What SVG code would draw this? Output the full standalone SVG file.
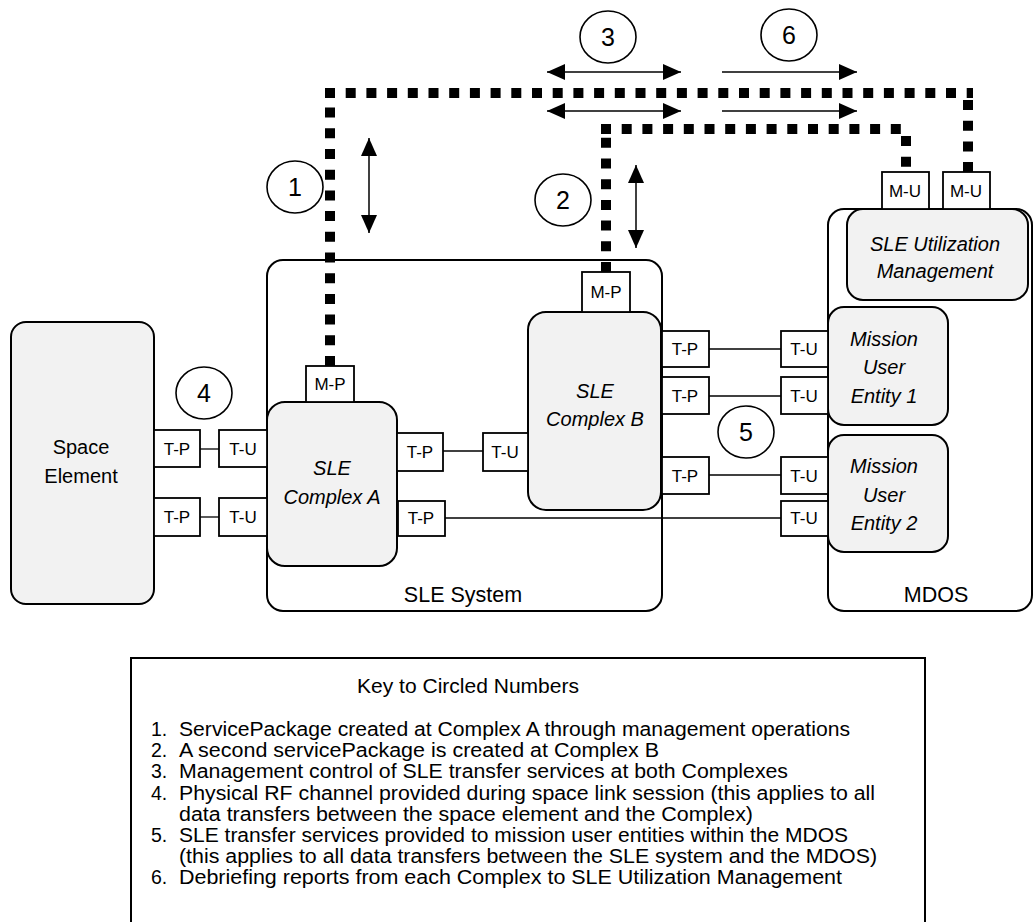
<svg xmlns="http://www.w3.org/2000/svg" width="1034" height="922" viewBox="0 0 1034 922">
<style>
  text { font-family: "Liberation Sans", Arial, sans-serif; fill: #000; }
  .big { fill: #fff; stroke: #000; stroke-width: 2; }
  .gray { fill: #f2f2f2; stroke: #000; stroke-width: 2; }
  .port { fill: #fff; stroke: #000; stroke-width: 1.8; }
  .pl { font-size: 17px; text-anchor: middle; }
  .lbl { font-size: 20px; text-anchor: middle; }
  .it { font-style: italic; }
  .sys { font-size: 21.5px; text-anchor: middle; }
  .num { fill: #fff; stroke: #000; stroke-width: 1.6; }
  .numt { font-size: 25px; text-anchor: middle; }
  .key { font-size: 19.5px; }
  .wire { stroke: #000; stroke-width: 1.3; fill: none; }
  .dot { stroke: #000; stroke-width: 10; fill: none; stroke-dasharray: 10 10.7; stroke-linecap: butt; }
  .arr { stroke: #000; stroke-width: 1.5; fill: none; }
</style>
<defs>
  <marker id="ah" viewBox="0 0 18 16" refX="18" refY="8" markerWidth="18" markerHeight="16" markerUnits="userSpaceOnUse" orient="auto-start-reverse">
    <path d="M0,0 L18,8 L0,16 z" fill="#000"/>
  </marker>
</defs>

<!-- containers -->
<g id="sle-system">
  <rect class="big" x="267" y="260" width="395" height="351" rx="16"/>
  <text class="sys" x="463" y="602">SLE System</text>
</g>
<g id="mdos">
  <rect class="big" x="828" y="209" width="204" height="402" rx="16"/>
  <text class="sys" x="936" y="602">MDOS</text>
</g>

<g id="space-element">
  <rect class="gray" x="11" y="322" width="143" height="282" rx="15"/>
  <text class="lbl" x="81" y="454">Space</text>
  <text class="lbl" x="81" y="483">Element</text>
</g>

<g id="complex-a">
  <rect class="gray" x="267" y="402" width="130" height="164" rx="18"/>
  <text class="lbl it" x="332" y="475">SLE</text>
  <text class="lbl it" x="332" y="504">Complex A</text>
</g>

<g id="complex-b">
  <rect class="gray" x="528" y="312" width="133" height="198" rx="18"/>
  <text class="lbl it" x="595" y="398">SLE</text>
  <text class="lbl it" x="595" y="426">Complex B</text>
</g>

<g id="sle-utilization-management">
  <rect class="gray" x="847" y="209" width="181" height="91" rx="16"/>
  <text class="lbl it" x="935" y="251">SLE Utilization</text>
  <text class="lbl it" x="935" y="278">Management</text>
</g>

<g id="mission-user-entity-1">
  <rect class="gray" x="828" y="307" width="120" height="118" rx="16"/>
  <text class="lbl it" x="884" y="346">Mission</text>
  <text class="lbl it" x="884" y="374">User</text>
  <text class="lbl it" x="884" y="403">Entity 1</text>
</g>

<g id="mission-user-entity-2">
  <rect class="gray" x="828" y="435" width="120" height="117" rx="16"/>
  <text class="lbl it" x="884" y="473">Mission</text>
  <text class="lbl it" x="884" y="502">User</text>
  <text class="lbl it" x="884" y="530">Entity 2</text>
</g>

<!-- connectors -->
<g id="connectors">
  <line class="wire" x1="200" y1="449" x2="219" y2="449"/>
  <line class="wire" x1="200" y1="517" x2="219" y2="517"/>
  <line class="wire" x1="443" y1="451" x2="483" y2="451"/>
  <line class="wire" x1="445" y1="518" x2="781" y2="518"/>
  <line class="wire" x1="709" y1="349" x2="781" y2="349"/>
  <line class="wire" x1="709" y1="396" x2="781" y2="396"/>
  <line class="wire" x1="709" y1="475" x2="781" y2="475"/>

  <path class="dot" d="M330 366 V98"/>
  <path class="dot" d="M325 93 H973"/>
  <path class="dot" d="M968 100 V172"/>
  <path class="dot" d="M606 272 V134"/>
  <path class="dot" d="M601 129 H911"/>
  <path class="dot" d="M906 136 V172"/>

  <line class="arr" x1="369" y1="138" x2="369" y2="233" marker-start="url(#ah)" marker-end="url(#ah)"/>
  <line class="arr" x1="636" y1="165" x2="636" y2="248" marker-start="url(#ah)" marker-end="url(#ah)"/>
  <line class="arr" x1="547" y1="72" x2="681" y2="72" marker-start="url(#ah)" marker-end="url(#ah)"/>
  <line class="arr" x1="547" y1="111" x2="681" y2="111" marker-start="url(#ah)" marker-end="url(#ah)"/>
  <line class="arr" x1="722" y1="72" x2="857" y2="72" marker-end="url(#ah)"/>
  <line class="arr" x1="722" y1="111" x2="857" y2="111" marker-end="url(#ah)"/>
</g>

<!-- ports -->
<g id="se-tp1"><rect class="port" x="154" y="430" width="46" height="37"/><text class="pl" x="177" y="455">T-P</text></g>
<g id="se-tp2"><rect class="port" x="154" y="498" width="46" height="38"/><text class="pl" x="177" y="523">T-P</text></g>
<g id="a-tu1"><rect class="port" x="219" y="430" width="48" height="37"/><text class="pl" x="243" y="455">T-U</text></g>
<g id="a-tu2"><rect class="port" x="219" y="498" width="48" height="38"/><text class="pl" x="243" y="523">T-U</text></g>
<g id="a-mp"><rect class="port" x="306" y="366" width="48" height="36"/><text class="pl" x="330" y="390">M-P</text></g>
<g id="a-tp1"><rect class="port" x="397" y="433" width="46" height="38"/><text class="pl" x="420" y="458">T-P</text></g>
<g id="a-tp2"><rect class="port" x="398" y="501" width="47" height="35"/><text class="pl" x="421" y="524">T-P</text></g>
<g id="b-tu"><rect class="port" x="483" y="433" width="45" height="38"/><text class="pl" x="505" y="458">T-U</text></g>
<g id="b-mp"><rect class="port" x="582" y="272" width="48" height="40"/><text class="pl" x="606" y="298">M-P</text></g>
<g id="b-tp1"><rect class="port" x="662" y="331" width="47" height="36"/><text class="pl" x="685" y="355">T-P</text></g>
<g id="b-tp2"><rect class="port" x="662" y="377" width="47" height="37"/><text class="pl" x="685" y="402">T-P</text></g>
<g id="b-tp3"><rect class="port" x="662" y="457" width="47" height="37"/><text class="pl" x="685" y="482">T-P</text></g>
<g id="m1-tu1"><rect class="port" x="781" y="331" width="47" height="36"/><text class="pl" x="804" y="355">T-U</text></g>
<g id="m1-tu2"><rect class="port" x="781" y="377" width="47" height="37"/><text class="pl" x="804" y="402">T-U</text></g>
<g id="m2-tu1"><rect class="port" x="781" y="457" width="47" height="37"/><text class="pl" x="804" y="482">T-U</text></g>
<g id="m2-tu2"><rect class="port" x="781" y="501" width="47" height="35"/><text class="pl" x="804" y="524">T-U</text></g>
<g id="um-mu1"><rect class="port" x="882" y="172" width="47" height="37"/><text class="pl" x="905" y="197">M-U</text></g>
<g id="um-mu2"><rect class="port" x="943" y="172" width="47" height="37"/><text class="pl" x="966" y="197">M-U</text></g>

<!-- circled numbers -->
<g id="n1"><ellipse class="num" cx="295" cy="187" rx="28" ry="26"/><text class="numt" x="295" y="196">1</text></g>
<g id="n2"><ellipse class="num" cx="563" cy="200" rx="28" ry="26"/><text class="numt" x="563" y="209">2</text></g>
<g id="n3"><ellipse class="num" cx="608" cy="37" rx="28" ry="26"/><text class="numt" x="608" y="46">3</text></g>
<g id="n4"><ellipse class="num" cx="204" cy="393" rx="28" ry="26"/><text class="numt" x="204" y="402">4</text></g>
<g id="n5"><ellipse class="num" cx="746" cy="432" rx="28" ry="26"/><text class="numt" x="746" y="441">5</text></g>
<g id="n6"><ellipse class="num" cx="789" cy="35" rx="28" ry="26"/><text class="numt" x="789" y="44">6</text></g>

<!-- key -->
<g id="key">
  <rect x="131" y="658" width="794" height="280" fill="#fff" stroke="#000" stroke-width="2"/>
  <text class="key" x="357" y="693" textLength="222" lengthAdjust="spacingAndGlyphs">Key to Circled Numbers</text>
  <text class="key" x="151" y="736">1.</text>
  <text class="key" x="179" y="736" textLength="671" lengthAdjust="spacingAndGlyphs">ServicePackage created at Complex A through management operations</text>
  <text class="key" x="151" y="757">2.</text>
  <text class="key" x="179" y="757" textLength="480" lengthAdjust="spacingAndGlyphs">A second servicePackage is created at Complex B</text>
  <text class="key" x="151" y="778">3.</text>
  <text class="key" x="179" y="778" textLength="609" lengthAdjust="spacingAndGlyphs">Management control of SLE transfer services at both Complexes</text>
  <text class="key" x="151" y="800">4.</text>
  <text class="key" x="179" y="800" textLength="696" lengthAdjust="spacingAndGlyphs">Physical RF channel provided during space link session (this applies to all</text>
  <text class="key" x="179" y="821" textLength="574" lengthAdjust="spacingAndGlyphs">data transfers between the space element and the Complex)</text>
  <text class="key" x="151" y="842">5.</text>
  <text class="key" x="179" y="842" textLength="669" lengthAdjust="spacingAndGlyphs">SLE transfer services provided to mission user entities within the MDOS</text>
  <text class="key" x="179" y="863" textLength="698" lengthAdjust="spacingAndGlyphs">(this applies to all data transfers between the SLE system and the MDOS)</text>
  <text class="key" x="151" y="884">6.</text>
  <text class="key" x="179" y="884" textLength="663" lengthAdjust="spacingAndGlyphs">Debriefing reports from each Complex to SLE Utilization Management</text>
</g>
</svg>
